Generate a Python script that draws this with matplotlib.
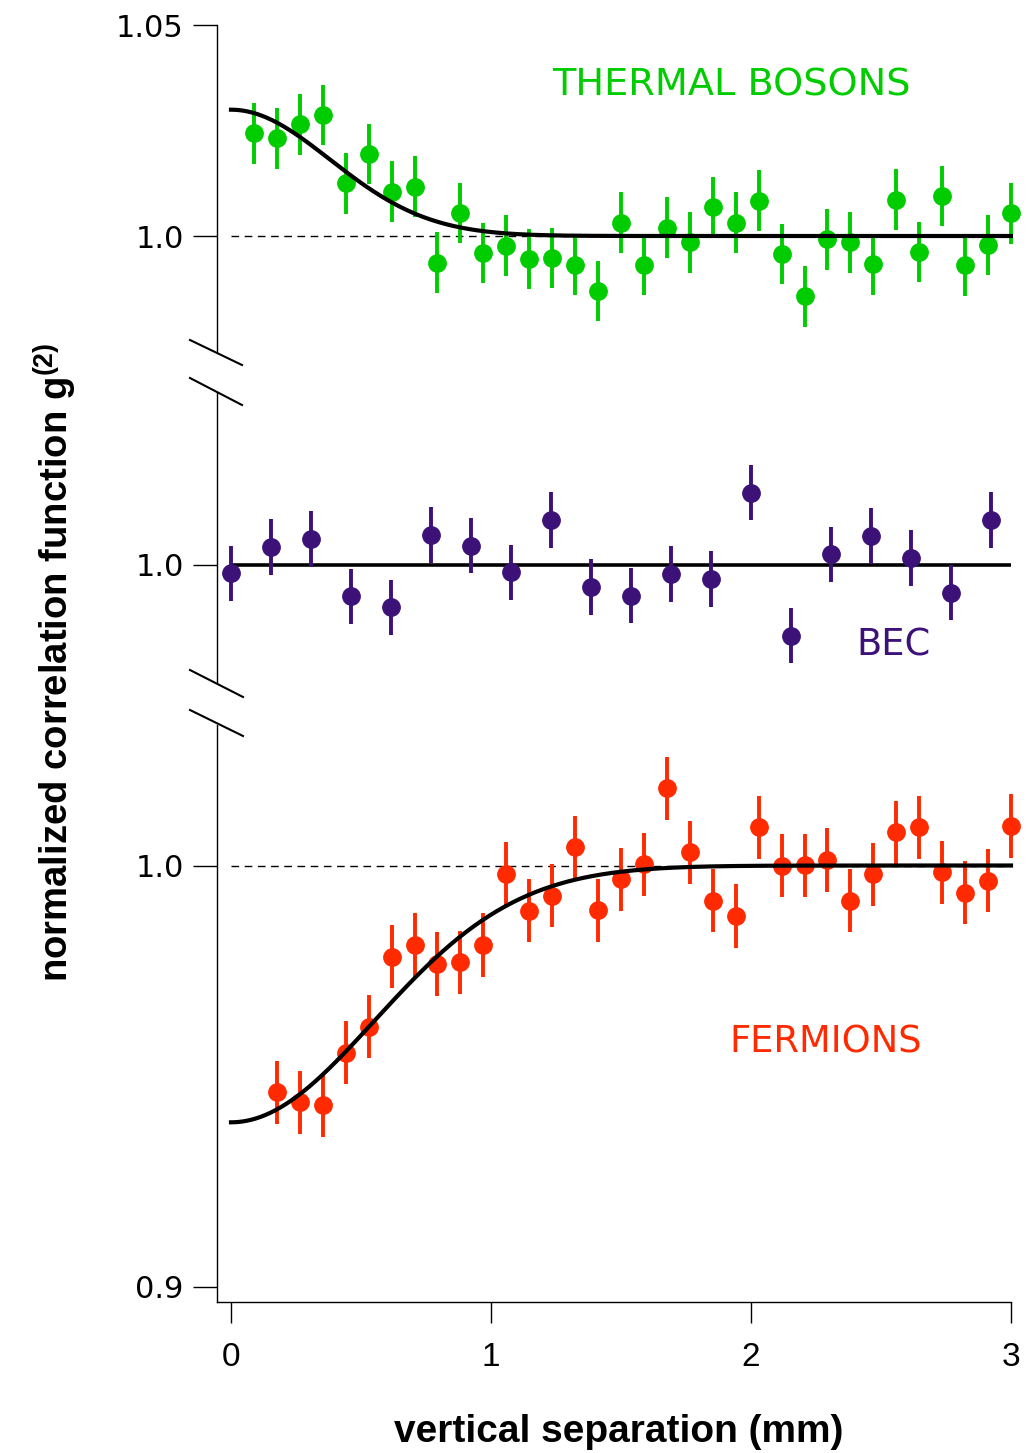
import numpy as np
import matplotlib
matplotlib.use('Agg')
import matplotlib.pyplot as plt
from matplotlib.lines import Line2D
from matplotlib import font_manager

# separation bins (mm)
bins = [0.088, 0.176, 0.265, 0.353, 0.441, 0.529, 0.618, 0.706, 0.794, 0.882,
        0.971, 1.059, 1.147, 1.235, 1.324, 1.412, 1.500, 1.588, 1.676, 1.765,
        1.853, 1.941, 2.029, 2.118, 2.206, 2.294, 2.382, 2.471, 2.559, 2.647,
        2.735, 2.824, 2.912, 3.000]

thermal_x = bins
thermal_g = [1.0244, 1.0232, 1.0265, 1.0287, 1.0125, 1.0195, 1.0105, 1.0117, 0.9937, 1.0055,
             0.9960, 0.9977, 0.9945, 0.9948, 0.9931, 0.9869, 1.0032, 0.9931, 1.0020, 0.9985,
             1.0069, 1.0032, 1.0084, 0.9957, 0.9857, 0.9992, 0.9985, 0.9933, 1.0086, 0.9962,
             1.0095, 0.9930, 0.9979, 1.0054]
thermal_err = 0.0072

bec_x = [0.000, 0.154, 0.308, 0.462, 0.615, 0.769, 0.923, 1.077, 1.231, 1.385,
         1.538, 1.692, 1.846, 2.000, 2.154, 2.308, 2.462, 2.615, 2.769, 2.923]
bec_g = [0.9979, 1.0042, 1.0060, 0.9924, 0.9898, 1.0070, 1.0045, 0.9981, 1.0106, 0.9947,
         0.9926, 0.9977, 0.9965, 1.0171, 0.9831, 1.0024, 1.0068, 1.0015, 0.9933, 1.0106]
bec_err = 0.0066

fermion_x = bins[1:]
fermion_g = [0.9461, 0.9438, 0.9431, 0.9555, 0.9617, 0.9783, 0.9811, 0.9766, 0.9770, 0.9811,
             0.9980, 0.9893, 0.9928, 1.0043, 0.9894, 0.9967, 1.0003, 1.0183, 1.0031, 0.9916,
             0.9880, 1.0091, 1.0000, 1.0001, 1.0013, 0.9916, 0.9979, 1.0079, 1.0091, 0.9984,
             0.9935, 0.9964, 1.0094]
fermion_err = 0.0075

# gaussian fits: amplitude, rms width (mm)
boson_fit = (0.030, 0.38)
fermion_fit = (-0.061, 0.55)
baseline = 1.0

green = '#00cc00'
purple = '#3d1278'
red = '#ff2a00'

available = {f.name for f in font_manager.fontManager.ttflist}
narrow = 'Liberation Sans Narrow' if 'Liberation Sans Narrow' in available else 'Liberation Sans'

plt.rcParams['font.family'] = 'DejaVu Sans'
plt.rcParams['mathtext.fontset'] = 'custom'
plt.rcParams['mathtext.rm'] = 'Liberation Sans'
plt.rcParams['mathtext.bf'] = 'Liberation Sans:bold'

W, H = 1036, 1453
fig = plt.figure(figsize=(W / 100, H / 100), dpi=100)

PX = 4210.0  # pixels per unit of g2
x_left, x_right = 217, 1011
xlim = (-(231 - 217) / 260.0, 3.0)


def panel(top, bottom, one_px):
    ax = fig.add_axes([x_left / W, 1 - bottom / H, (x_right - x_left) / W, (bottom - top) / H])
    ax.set_xlim(*xlim)
    ax.set_ylim(1 - (bottom - one_px) / PX, 1 + (one_px - top) / PX)
    for s in ('top', 'right'):
        ax.spines[s].set_visible(False)
    ax.spines['left'].set_linewidth(1.0)
    ax.tick_params(axis='y', direction='out', length=17, width=1.0, pad=7, labelsize=22)
    ax.patch.set_visible(False)
    return ax


def points(ax, x, y, err, color):
    c = ax.errorbar(x, y, yerr=err, fmt='o', color=color, ms=12.5, elinewidth=2.8,
                    capsize=0, zorder=3)
    for art in c.get_children():
        art.set_clip_on(False)


def gauss(amp, width, x):
    return baseline + amp * np.exp(-x ** 2 / (2 * width ** 2))


xs = np.linspace(0, 3, 400)

# thermal bosons
ax1 = panel(25, 352, 236)
ax1.spines['bottom'].set_visible(False)
ax1.set_xticks([])
ax1.set_yticks([1.0, 1.05])
ax1.set_yticklabels(['1.0', '1.05'])
ax1.hlines(baseline, 0, 3, colors='black', linestyles=(0, (5.5, 4)), lw=1.0, zorder=1)
points(ax1, thermal_x, thermal_g, thermal_err, green)
ax1.plot(xs, gauss(*boson_fit, xs), color='black', lw=3.0, zorder=4, clip_on=False)
ax1.text(1.236, 1.0333, 'THERMAL BOSONS', color=green, fontsize=27.5, va='baseline')

# BEC
ax2 = panel(392, 683, 564.5)
ax2.spines['bottom'].set_visible(False)
ax2.set_xticks([])
ax2.set_yticks([1.0])
ax2.set_yticklabels(['1.0'])
ax2.hlines(baseline, 0, 3, colors='black', lw=2.6, zorder=2)
points(ax2, bec_x, bec_g, bec_err, purple)
ax2.text(2.405, 0.9785, 'BEC', color=purple, fontsize=26.5, va='baseline')

# fermions
ax3 = panel(725, 1302, 865.5)
ax3.spines['bottom'].set_linewidth(1.0)
ax3.set_yticks([0.9, 1.0])
ax3.set_yticklabels(['0.9', '1.0'])
ax3.set_xticks([0, 1, 2, 3])
ax3.set_xticklabels(['0', '1', '2', '3'], family=narrow)
ax3.tick_params(axis='x', direction='out', length=15, width=1.0, pad=14, labelsize=24)
ax3.hlines(baseline, 0, 3, colors='black', linestyles=(0, (5.5, 4)), lw=1.0, zorder=1)
points(ax3, fermion_x, fermion_g, fermion_err, red)
ax3.plot(xs, gauss(*fermion_fit, xs), color='black', lw=3.0, zorder=4, clip_on=False)
ax3.text(1.915, 0.9557, 'FERMIONS', color=red, fontsize=26.5, va='baseline')

# axis break marks
for (x0, y0, x1, y1) in [(190, 340, 242, 365), (190, 378, 242, 405),
                         (190, 670, 243, 697), (190, 710, 243, 736)]:
    fig.add_artist(Line2D([x0 / W, x1 / W], [1 - y0 / H, 1 - y1 / H],
                          transform=fig.transFigure, color='black', lw=1.5))

fig.text(55 / W, 1 - 662 / H, r'normalized correlation function g$^{\mathbf{(2)}}$',
         rotation=90, ha='center', va='center', fontsize=27.5, fontweight='bold',
         family='Liberation Sans')
fig.text(619 / W, 1 - 1432 / H, 'vertical separation (mm)', ha='center', va='center',
         fontsize=28, fontweight='bold', family=narrow)

fig.savefig('out.png', dpi=100)
